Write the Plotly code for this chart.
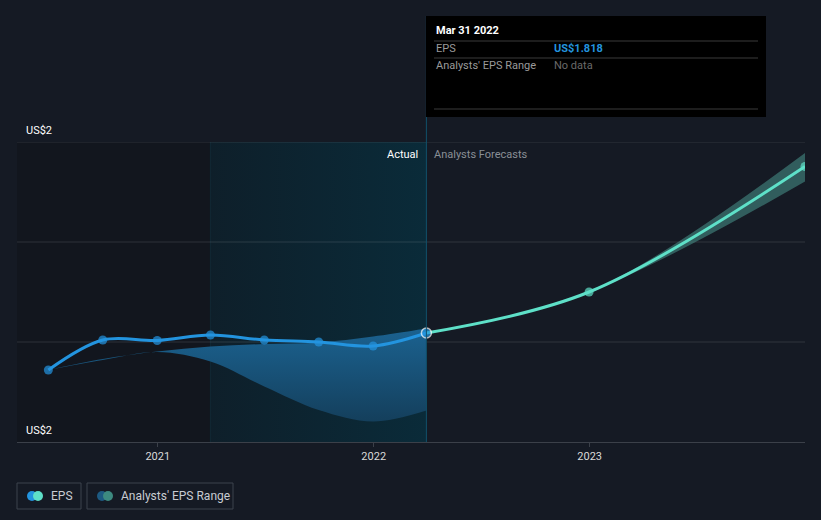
import plotly.graph_objects as go

# ---- data ----
eps_dates = ["2020-06-30", "2020-09-30", "2020-12-31", "2021-03-31",
             "2021-06-30", "2021-09-30", "2021-12-31", "2022-03-31"]
eps_values = [1.744, 1.804, 1.803, 1.814, 1.804, 1.800, 1.792, 1.818]

range_dates = eps_dates
range_high = [1.744, 1.766, 1.781, 1.791, 1.796, 1.799, 1.811, 1.827]
range_low = [1.744, 1.764, 1.780, 1.761, 1.711, 1.664, 1.641, 1.663]

fc_dates = ["2022-03-31", "2022-12-31", "2023-12-31"]
fc_values = [1.818, 1.900, 2.151]
fc_high = [1.818, 1.900, 2.178]
fc_low = [1.818, 1.900, 2.121]

x_ticks = ["2021-01-01", "2022-01-01", "2023-01-01"]
x_tick_labels = ["2021", "2022", "2023"]
y_range = [1.6, 2.2]
y_grid = [1.8, 2.0, 2.2]
x_range = ["2020-05-08", "2023-12-31"]

BG = "#151a24"
FONT = "Roboto"
EPS_BLUE = "#2394df"
FC_GREEN = "#5ee0c8"

fig = go.Figure()

# past shaded region (gradient) from data dates
fig.add_trace(go.Scatter(
    x=[eps_dates[3], eps_dates[-1], eps_dates[-1], eps_dates[3], eps_dates[3]],
    y=[y_range[0], y_range[0], y_range[1], y_range[1], y_range[0]],
    mode="lines", line=dict(width=0), fill="toself",
    fillgradient=dict(type="horizontal",
                      colorscale=[[0, "#0e1f2a"], [1, "#0a2b39"]]),
    hoverinfo="skip", showlegend=False))

# grid lines (as traces so they sit above the background but below the data)
for gv in y_grid:
    fig.add_trace(go.Scatter(x=x_range, y=[gv, gv], mode="lines",
                             line=dict(color="rgba(255,255,255,0.12)", width=1),
                             hoverinfo="skip", showlegend=False, cliponaxis=False))

# analysts' past range band
fig.add_trace(go.Scatter(x=range_dates, y=range_high, mode="lines",
                         line=dict(width=0, shape="spline", color="#1b5a85"),
                         hoverinfo="skip", showlegend=False))
fig.add_trace(go.Scatter(x=range_dates, y=range_low, mode="lines",
                         line=dict(width=0, shape="spline", color="#1b5a85"),
                         fill="tonexty",
                         fillgradient=dict(type="vertical",
                                           colorscale=[[0, "#143f5c"], [1, "#1b6290"]]),
                         hoverinfo="skip", showlegend=False))

# forecast band
fig.add_trace(go.Scatter(x=fc_dates, y=fc_high, mode="lines",
                         line=dict(width=0, shape="spline"),
                         hoverinfo="skip", showlegend=False))
fig.add_trace(go.Scatter(x=fc_dates, y=fc_low, mode="lines",
                         line=dict(width=0, shape="spline"),
                         fill="tonexty", fillcolor="rgba(72,150,140,0.55)",
                         hoverinfo="skip", showlegend=False))

# forecast line
fig.add_trace(go.Scatter(x=fc_dates, y=fc_values, mode="lines+markers",
                         line=dict(color=FC_GREEN, width=3, shape="spline"),
                         marker=dict(size=[0, 9, 9], color=FC_GREEN, line=dict(width=0)),
                         showlegend=False))

# EPS line
fig.add_trace(go.Scatter(x=eps_dates, y=eps_values, mode="lines+markers",
                         line=dict(color=EPS_BLUE, width=3, shape="spline"),
                         marker=dict(size=[9] * (len(eps_dates) - 1) + [10],
                                     color=EPS_BLUE,
                                     line=dict(width=[0] * (len(eps_dates) - 1) + [1.5],
                                               color="white")),
                         showlegend=False))

shapes = []
# dark left region
shapes.append(dict(type="rect", xref="x", yref="y", x0=x_range[0], x1=eps_dates[3],
                   y0=y_range[0], y1=y_range[1], fillcolor="#12161e", line_width=0,
                   layer="below"))
# vertical boundary line at start of shading
shapes.append(dict(type="line", xref="x", yref="y", x0=eps_dates[3], x1=eps_dates[3],
                   y0=y_range[0], y1=y_range[1], line=dict(color="#13303d", width=1),
                   layer="below"))
# hover line
shapes.append(dict(type="line", xref="x", yref="paper", x0=eps_dates[-1], x1=eps_dates[-1],
                   y0=0, y1=1.42, line=dict(color="#10506a", width=1)))

# tooltip box
tx0, tx1 = (426 - 17) / 788, (766 - 17) / 788
shapes.append(dict(type="rect", xref="paper", yref="paper", x0=tx0, x1=tx1,
                   y0=(442 - 117) / 300, y1=(442 - 16) / 300,
                   fillcolor="#000000", line_width=0))
for py in (41, 58, 109):
    shapes.append(dict(type="line", xref="paper", yref="paper",
                       x0=(434 - 17) / 788, x1=(758 - 17) / 788,
                       y0=(442 - py) / 300, y1=(442 - py) / 300,
                       line=dict(color="#3a3a3a", width=1)))

# legend boxes
def px_x(p):
    return (p - 17) / 788

def px_y(p):
    return (442 - p) / 300

for (a, b) in ((17, 81), (87, 233)):
    shapes.append(dict(type="rect", xref="paper", yref="paper",
                       x0=px_x(a), x1=px_x(b), y0=px_y(509), y1=px_y(483),
                       fillcolor="rgba(0,0,0,0)", line=dict(color="#3c424c", width=1)))

def circle(cx, cy, r, color):
    return dict(type="circle", xref="paper", yref="paper",
                xsizemode="pixel", ysizemode="pixel",
                xanchor=px_x(cx), yanchor=px_y(cy),
                x0=-r, x1=r, y0=-r, y1=r, fillcolor=color, line_width=0)

shapes.append(circle(32, 496, 5, EPS_BLUE))
shapes.append(circle(38, 496, 5, FC_GREEN))
shapes.append(circle(102, 496, 5, "#1d5a82"))
shapes.append(circle(108, 496, 5, "#3d8a80"))

annotations = []
def ann(text, x, y, color, size=11, xanchor="left", xref="paper", yref="paper",
        yanchor="middle", **kw):
    annotations.append(dict(text=text, x=x, y=y, xref=xref, yref=yref,
                            xanchor=xanchor, yanchor=yanchor, showarrow=False,
                            font=dict(family=FONT, size=size, color=color), **kw))

ann("US$2", px_x(24), y_range[1], "#ffffff", yref="y", yanchor="bottom", yshift=3)
ann("US$2", px_x(24), y_range[0], "#ffffff", yref="y", yanchor="bottom", yshift=3)
ann("Actual", eps_dates[-1], px_y(154), "#ffffff", xref="x", xanchor="right", xshift=-6)
ann("Analysts Forecasts", eps_dates[-1], px_y(154), "#8a8f96", xref="x", xshift=6)

ann("<b>Mar 31 2022</b>", px_x(434), px_y(31), "#ffffff", size=11)
ann("EPS", px_x(434), px_y(48), "#9a9a9a")
ann("<b>US$1.818</b>", px_x(552), px_y(48), EPS_BLUE)
ann("Analysts' EPS Range", px_x(434), px_y(66), "#9a9a9a")
ann("No data", px_x(552), px_y(66), "#6a6a6a")

ann("EPS", px_x(49), px_y(496), "#c8ccd2", size=12)
ann("Analysts' EPS Range", px_x(119), px_y(496), "#c8ccd2", size=12)

fig.update_layout(
    width=821, height=520,
    margin=dict(l=17, r=16, t=142, b=78),
    paper_bgcolor=BG, plot_bgcolor=BG,
    font=dict(family=FONT, color="#d9d9d9"),
    showlegend=False,
    shapes=shapes, annotations=annotations,
    xaxis=dict(range=x_range, type="date", tickvals=x_ticks, ticktext=x_tick_labels,
               showgrid=False, zeroline=False, showline=True, linecolor="#3b4049",
               linewidth=1, ticks="outside", ticklen=4, tickcolor="#3b4049",
               tickfont=dict(family=FONT, size=11, color="#d9d9d9")),
    yaxis=dict(range=y_range, showticklabels=False, showgrid=False,
               zeroline=False, fixedrange=True),
    hovermode=False,
)

fig.write_html("out.html")
